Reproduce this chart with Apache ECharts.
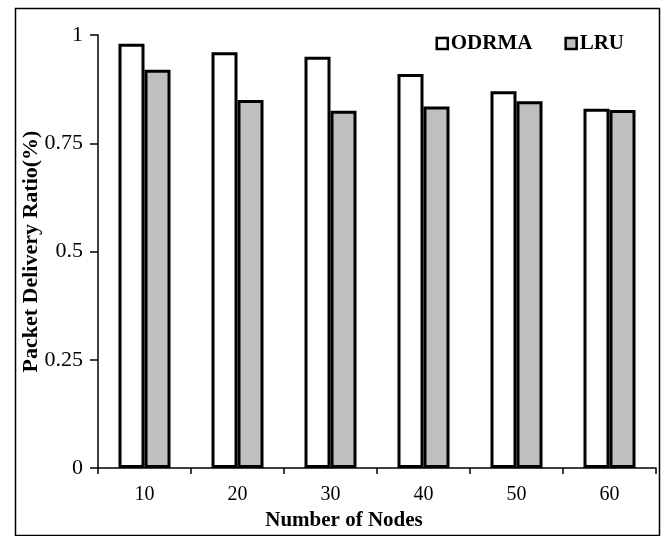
<!DOCTYPE html>
<html>
<head>
<meta charset="utf-8">
<script src="https://cdn.jsdelivr.net/npm/echarts@6/dist/echarts.min.js"></script>
<style>html,body{margin:0;padding:0;background:#fff}#c{width:665px;height:536px}</style>
</head>
<body>
<div id="c"></div>
<script>
var categories = ['10', '20', '30', '40', '50', '60'];
var odrma = [0.98, 0.96, 0.95, 0.91, 0.87, 0.83];
var lru = [0.92, 0.85, 0.825, 0.835, 0.847, 0.827];
var yTicks = [0, 0.25, 0.5, 0.75, 1];

var FONT = 'Liberation Serif';
var chart = echarts.init(document.getElementById('c'));
chart.setOption({
  animation: false,
  backgroundColor: '#fff',
  textStyle: { fontFamily: FONT },
  graphic: [{
    type: 'rect', left: 13, top: 6,
    shape: { width: 644, height: 527 },
    style: { fill: 'none', stroke: '#000', lineWidth: 1.5 },
    silent: true
  }],
  legend: {
    right: 36, top: 28,
    itemWidth: 11, itemHeight: 11, itemGap: 32,
    icon: 'rect',
    textStyle: { fontFamily: FONT, fontWeight: 'bold', fontSize: 21, color: '#000', padding: [0, 0, 0, -2] },
    data: [
      { name: 'ODRMA', itemStyle: { color: '#fff', borderColor: '#000', borderWidth: 2.5 } },
      { name: 'LRU', itemStyle: { color: '#bfbfbf', borderColor: '#000', borderWidth: 2.5 } }
    ]
  },
  grid: { left: 98, right: 9, top: 35, bottom: 67 },
  xAxis: {
    type: 'category',
    data: categories,
    name: 'Number of Nodes',
    nameLocation: 'middle',
    nameGap: 40,
    nameTextStyle: { fontFamily: FONT, fontWeight: 'bold', fontSize: 21, color: '#000', padding: [0, 66, 0, 0] },
    axisLine: { lineStyle: { color: '#000', width: 1.5 } },
    axisTick: { show: true, length: 6, inside: false, alignWithLabel: false, lineStyle: { color: '#000', width: 1.5 } },
    axisLabel: { fontFamily: FONT, fontSize: 20, color: '#000', margin: 17 }
  },
  yAxis: {
    type: 'value',
    min: 0, max: 1, interval: 0.25,
    name: 'Packet Delivery Ratio(%)',
    nameLocation: 'middle',
    nameGap: 56,
    nameMoveOverlap: false,
    nameTextStyle: { fontFamily: FONT, fontWeight: 'bold', fontSize: 22, color: '#000' },
    axisLine: { show: true, lineStyle: { color: '#000', width: 1.5 } },
    axisTick: { show: true, length: 8, lineStyle: { color: '#000', width: 1.5 } },
    splitLine: { show: false },
    axisLabel: {
      fontFamily: FONT, fontSize: 22, color: '#000', margin: 15,
      formatter: function (v) { return yTicks.indexOf(v) >= 0 ? String(v) : ''; }
    }
  },
  series: [
    {
      name: 'ODRMA', type: 'bar', data: odrma,
      barWidth: 26, barGap: '0%',
      itemStyle: { color: '#fff', borderColor: '#000', borderWidth: 3 }
    },
    {
      name: 'LRU', type: 'bar', data: lru,
      barWidth: 26, barGap: '0%',
      itemStyle: { color: '#bfbfbf', borderColor: '#000', borderWidth: 3 }
    }
  ]
});
</script>
</body>
</html>
